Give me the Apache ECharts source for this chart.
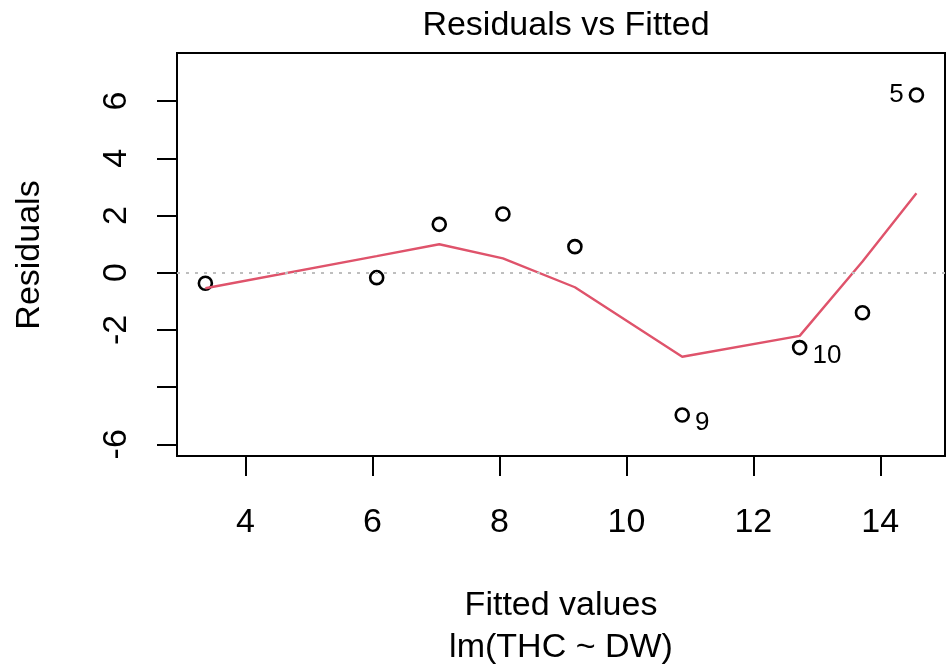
<!DOCTYPE html>
<html>
<head>
<meta charset="utf-8">
<script src="https://cdn.jsdelivr.net/npm/echarts@6/dist/echarts.min.js"></script>
<style>
html,body{margin:0;padding:0;background:#fff;}
#chart{width:946px;height:670px;}
</style>
</head>
<body>
<div id="chart"></div>
<script>
// Data
const fittedX   = [3.367, 6.066, 7.052, 8.055, 9.189, 10.88, 12.73, 13.72, 14.57];
const residualY = [-0.37, -0.175, 1.69, 2.05, 0.91, -4.975, -2.62, -1.40, 6.21];
const lowessY   = [-0.545, 0.577, 0.993, 0.497, -0.51, -2.94, -2.21, 0.39, 2.78];
const pointIds  = ['', '', '', '', '', '9', '10', '', '5'];
const xTicks = [4, 6, 8, 10, 12, 14];
const yTicks = [-6, -4, -2, 0, 2, 4, 6];
const yTickLabels = [-6, -2, 0, 2, 4, 6];

const FONT = "'Liberation Sans', Arial, Helvetica, sans-serif";
const chart = echarts.init(document.getElementById('chart'), null, {renderer: 'canvas'});

const scatterData = fittedX.map((x, i) => {
  const id = pointIds[i];
  const item = {value: [x, residualY[i]]};
  if (id) {
    const left = (id === '5');
    item.label = {
      show: true,
      formatter: id,
      position: left ? 'left' : 'right',
      distance: 5,
      offset: left ? [0, 0] : [0, 8],
      color: '#000',
      fontSize: 26,
      fontFamily: FONT
    };
  }
  return item;
});

const option = {
  animation: false,
  backgroundColor: '#fff',
  title: {
    text: 'Residuals vs Fitted',
    left: 561,
    top: 4,
    textAlign: 'center',
    textStyle: {fontSize: 34, fontWeight: 'normal', color: '#000', fontFamily: FONT}
  },
  grid: {
    left: 177, right: 1, top: 53, bottom: 214,
    show: true, borderColor: '#000', borderWidth: 2, backgroundColor: 'transparent'
  },
  xAxis: {
    type: 'value',
    min: 2.92, max: 15.02,
    axisLine: {show: false, onZero: false},
    splitLine: {show: false},
    axisTick: {show: true, length: 20, customValues: xTicks, lineStyle: {color: '#000', width: 2}},
    axisLabel: {customValues: xTicks, margin: 50, color: '#000', fontSize: 34, fontFamily: FONT}
  },
  yAxis: {
    type: 'value',
    min: -6.41, max: 7.68,
    axisLine: {show: false, onZero: false},
    splitLine: {show: false},
    axisTick: {show: true, length: 20, customValues: yTicks, lineStyle: {color: '#000', width: 2}},
    axisLabel: {customValues: yTickLabels, rotate: 90, margin: 43, color: '#000', fontSize: 34, fontFamily: FONT}
  },
  graphic: [
    {type: 'text', x: 561, y: 606, style: {text: 'Fitted values', align: 'center', verticalAlign: 'middle', fontSize: 34, fontFamily: FONT, fill: '#000'}},
    {type: 'text', x: 561, y: 648, style: {text: 'lm(THC ~ DW)', align: 'center', verticalAlign: 'middle', fontSize: 34, fontFamily: FONT, fill: '#000'}},
    {type: 'text', x: 30, y: 255, rotation: Math.PI / 2, style: {text: 'Residuals', align: 'center', verticalAlign: 'middle', fontSize: 34, fontFamily: FONT, fill: '#000'}}
  ],
  series: [
    {
      type: 'scatter',
      data: scatterData,
      symbol: 'circle',
      symbolSize: 13,
      itemStyle: {color: 'rgba(0,0,0,0)', borderColor: '#000', borderWidth: 2.6, opacity: 1},
      z: 2
    },
    {
      type: 'line',
      data: fittedX.map((x, i) => [x, lowessY[i]]),
      showSymbol: false,
      symbol: 'none',
      lineStyle: {color: '#DF536B', width: 2.4},
      z: 3,
      markLine: {
        silent: true,
        symbol: ['none', 'none'],
        label: {show: false},
        lineStyle: {color: '#BEBEBE', type: [3, 6], width: 2},
        data: [{yAxis: 0}]
      }
    }
  ]
};
chart.setOption(option);
</script>
</body>
</html>
